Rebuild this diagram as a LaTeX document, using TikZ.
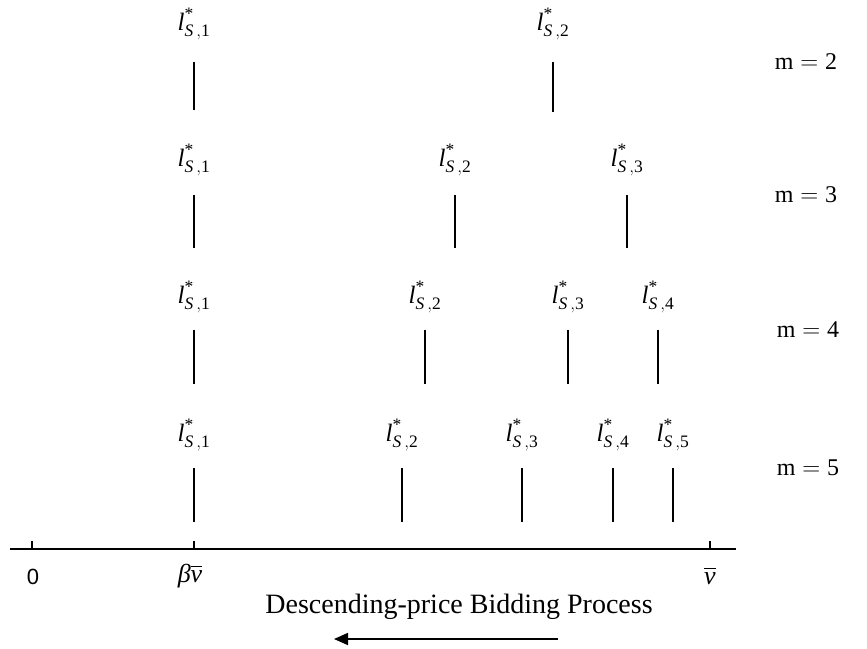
\documentclass[tikz,border=0pt]{standalone}
\usepackage{amsmath}
\usepackage{fontspec}
\setmainfont{Liberation Serif}
\newfontfamily\arialfont{Liberation Sans}
\usetikzlibrary{arrows.meta}
\newcommand{\lsl}[1]{$\textit{l}^{\textup{*}}_{\textit{S}\,,\textup{#1}}$}
\tikzset{
  lbl/.style={font=\fontsize{25}{29}\selectfont, inner sep=0pt},
  axlbl/.style={font=\fontsize{26}{30}\selectfont, inner sep=0pt},
  mlbl/.style={font=\fontsize{24}{28}\selectfont, inner sep=0pt},
  vtick/.style={line width=1.6pt},
  axisline/.style={line width=1.6pt},
}
\begin{document}
\begin{tikzpicture}[x=1pt,y=-1pt]
\useasboundingbox (0,0) rectangle (867,648);
% m = 2
\node[lbl] (a1) at (194,24) {\lsl{1}};
\node[lbl] (a2) at (553,24) {\lsl{2}};
\draw[vtick] (194,62) -- (194,110);
\draw[vtick] (553,62) -- (553,112);
\node[mlbl] (m2) at (806,62) {$\mathrm{m}=\textup{2}$};
% m = 3
\node[lbl] (b1) at (194,160) {\lsl{1}};
\node[lbl] (b2) at (455,160) {\lsl{2}};
\node[lbl] (b3) at (627,160) {\lsl{3}};
\draw[vtick] (194,195) -- (194,248);
\draw[vtick] (455,195) -- (455,248);
\draw[vtick] (627,195) -- (627,248);
\node[mlbl] (m3) at (806,195) {$\mathrm{m}=\textup{3}$};
% m = 4
\node[lbl] (c1) at (194,297) {\lsl{1}};
\node[lbl] (c2) at (425,297) {\lsl{2}};
\node[lbl] (c3) at (568,297) {\lsl{3}};
\node[lbl] (c4) at (658,297) {\lsl{4}};
\draw[vtick] (194,330) -- (194,384);
\draw[vtick] (425,330) -- (425,384);
\draw[vtick] (568,330) -- (568,384);
\draw[vtick] (658,330) -- (658,384);
\node[mlbl] (m4) at (808,330) {$\mathrm{m}=\textup{4}$};
% m = 5
\node[lbl] (d1) at (194,435) {\lsl{1}};
\node[lbl] (d2) at (402,435) {\lsl{2}};
\node[lbl] (d3) at (522,435) {\lsl{3}};
\node[lbl] (d4) at (613,435) {\lsl{4}};
\node[lbl] (d5) at (673,435) {\lsl{5}};
\draw[vtick] (194,468) -- (194,522);
\draw[vtick] (402,468) -- (402,522);
\draw[vtick] (522,468) -- (522,522);
\draw[vtick] (613,468) -- (613,522);
\draw[vtick] (673,468) -- (673,522);
\node[mlbl] (m5) at (808,468) {$\mathrm{m}=\textup{5}$};
% axis
\coordinate (axL) at (10,549);
\coordinate (axR) at (736,549);
\draw[axisline] (axL) -- (axR);
\draw[vtick] (32,541) -- (32,549);
\draw[vtick] (194,541) -- (194,549);
\draw[vtick] (710,541) -- (710,549);
\node[inner sep=0pt, font=\arialfont\fontsize{22}{26}\selectfont] (z) at (33,577) {0};
\node[axlbl] (bv) at (190,576) {\textit{β}$\overline{\textit{v}}$};
\node[axlbl] (vb) at (710,576) {$\overline{\textit{v}}$};
\node[inner sep=0pt, font=\fontsize{28}{32}\selectfont] (title) at (459,607) {Descending-price Bidding Process};
\coordinate (arS) at (558,639);
\coordinate (arE) at (334,639);
\draw[line width=1.6pt, -{Triangle[length=14pt,width=12pt]}] (arS) -- (arE);
\end{tikzpicture}
\end{document}
